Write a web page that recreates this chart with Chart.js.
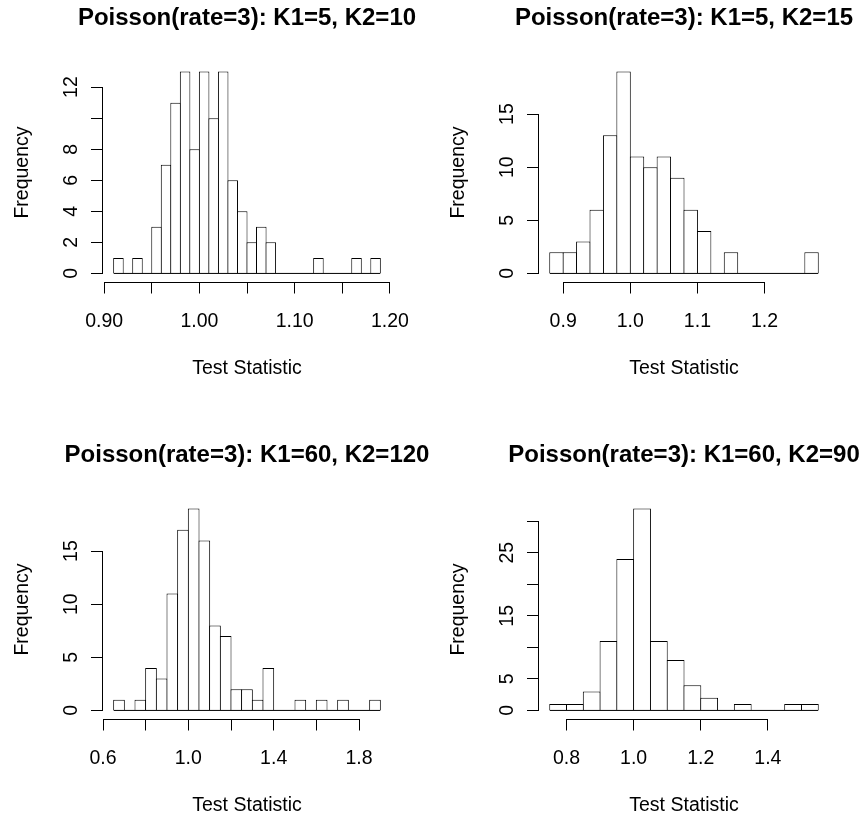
<!DOCTYPE html>
<html>
<head>
<meta charset="utf-8">
<title>Poisson(rate=3) test statistic histograms</title>
<script src="https://cdn.jsdelivr.net/npm/chart.js@4.4.1/dist/chart.umd.min.js"></script>
<style>
  html, body { margin: 0; padding: 0; background: #fff; }
  #page { position: relative; width: 863px; height: 820px; overflow: hidden; background: #fff; }
  #page canvas { position: absolute; }
</style>
</head>
<body>
<div id="page">
  <canvas id="h1" width="494" height="436" style="left:0px;top:0px;width:494px;height:436px"></canvas>
  <canvas id="h2" width="496" height="436" style="left:436px;top:0px;width:496px;height:436px"></canvas>
  <canvas id="h3" width="494" height="436" style="left:0px;top:437px;width:494px;height:436px"></canvas>
  <canvas id="h4" width="496" height="436" style="left:436px;top:437px;width:496px;height:436px"></canvas>
</div>
<script>
// ---- K1=5, K2=10 ----
const breaks1 = [0.91, 0.92, 0.93, 0.94, 0.95, 0.96, 0.97, 0.98, 0.99, 1.00,
                 1.01, 1.02, 1.03, 1.04, 1.05, 1.06, 1.07, 1.08, 1.09, 1.10,
                 1.11, 1.12, 1.13, 1.14, 1.15, 1.16, 1.17, 1.18, 1.19];
const counts1 = [1, 0, 1, 0, 3, 7, 11, 13, 8, 13,
                 10, 13, 6, 4, 2, 3, 2, 0, 0, 0,
                 0, 1, 0, 0, 0, 1, 0, 1];
const xTicks1 = [0.90, 0.95, 1.00, 1.05, 1.10, 1.15, 1.20];
const xLabels1 = ['0.90', '', '1.00', '', '1.10', '', '1.20'];
const yTicks1 = [0, 2, 4, 6, 8, 10, 12];
const yLabels1 = ['0', '2', '4', '6', '8', '', '12'];

// ---- K1=5, K2=15 ----
const breaks2 = [0.88, 0.90, 0.92, 0.94, 0.96, 0.98, 1.00, 1.02, 1.04, 1.06,
                 1.08, 1.10, 1.12, 1.14, 1.16, 1.18, 1.20, 1.22, 1.24, 1.26, 1.28];
const counts2 = [2, 2, 3, 6, 13, 19, 11, 10, 11, 9,
                 6, 4, 0, 2, 0, 0, 0, 0, 0, 2];
const xTicks2 = [0.9, 1.0, 1.1, 1.2];
const xLabels2 = ['0.9', '1.0', '1.1', '1.2'];
const yTicks2 = [0, 5, 10, 15];
const yLabels2 = ['0', '5', '10', '15'];

// ---- K1=60, K2=120 ----
const breaks3 = [0.65, 0.70, 0.75, 0.80, 0.85, 0.90, 0.95, 1.00, 1.05, 1.10,
                 1.15, 1.20, 1.25, 1.30, 1.35, 1.40, 1.45, 1.50, 1.55, 1.60,
                 1.65, 1.70, 1.75, 1.80, 1.85, 1.90];
const counts3 = [1, 0, 1, 4, 3, 11, 17, 19, 16, 8,
                 7, 2, 2, 1, 4, 0, 0, 1, 0, 1,
                 0, 1, 0, 0, 1];
const xTicks3 = [0.6, 0.8, 1.0, 1.2, 1.4, 1.6, 1.8];
const xLabels3 = ['0.6', '', '1.0', '', '1.4', '', '1.8'];
const yTicks3 = [0, 5, 10, 15];
const yLabels3 = ['0', '5', '10', '15'];

// ---- K1=60, K2=90 ----
const breaks4 = [0.75, 0.80, 0.85, 0.90, 0.95, 1.00, 1.05, 1.10, 1.15, 1.20,
                 1.25, 1.30, 1.35, 1.40, 1.45, 1.50, 1.55];
const counts4 = [1, 1, 3, 11, 24, 32, 11, 8, 4, 2,
                 0, 1, 0, 0, 1, 1];
const xTicks4 = [0.8, 1.0, 1.2, 1.4];
const xLabels4 = ['0.8', '1.0', '1.2', '1.4'];
const yTicks4 = [0, 5, 10, 15, 20, 25, 30];
const yLabels4 = ['0', '5', '', '15', '', '25', ''];

const FONT = '"Liberation Sans", Arial, Helvetica, sans-serif';
Chart.defaults.font.family = FONT;
Chart.defaults.color = '#000';

// Panel geometry (canvas pixels)
const PLOT_LEFT = 103;     // width of the left axis band
const XAXIS_HEIGHT = 154.5;

// Axis lines that run only from the first to the last tick
const tickSpanAxes = {
  id: 'tickSpanAxes',
  afterDraw(chart) {
    const { ctx, chartArea, scales } = chart;
    const x = scales.x, y = scales.y;
    const xt = x.ticks, yt = y.ticks;
    ctx.save();
    ctx.strokeStyle = '#000';
    ctx.lineWidth = 1;
    ctx.lineCap = 'square';
    ctx.beginPath();
    const yLine = Math.round(chartArea.bottom) + 0.5;
    ctx.moveTo(Math.round(x.getPixelForValue(xt[0].value) - 0.5) + 0.5, yLine);
    ctx.lineTo(Math.round(x.getPixelForValue(xt[xt.length - 1].value) - 0.5) + 0.5, yLine);
    const xLine = Math.round(chartArea.left) - 0.5;
    ctx.moveTo(xLine, Math.round(y.getPixelForValue(yt[0].value) - 0.5) + 0.5);
    ctx.lineTo(xLine, Math.round(y.getPixelForValue(yt[yt.length - 1].value) - 0.5) + 0.5);
    ctx.stroke();
    ctx.restore();
  }
};

function drawHistogram(id, title, breaks, counts, xTicks, xLabels, yTicks, yLabels) {
  const canvas = document.getElementById(id);
  const plotRight = canvas.width - PLOT_LEFT;   // an empty band of equal width on the right keeps the title centred on the plot
  const first = breaks[0];
  const last = breaks[breaks.length - 1];
  const pad = 0.04 * (last - first);
  const xMin = first - pad, xMax = last + pad;
  const maxCount = Math.max(...counts);
  const yMin = -0.04 * maxCount, yMax = 1.04 * maxCount;

  const bars = counts.map((c, i) => ({ x: (breaks[i] + breaks[i + 1]) / 2, y: c }));

  // widen each bar by one pixel so neighbouring outlines share a single line
  const binPx = (breaks[1] - breaks[0]) * (plotRight - PLOT_LEFT) / (xMax - xMin);
  const barPct = 1 + 1 / binPx;

  const tickFont = { family: FONT, size: 19.5 };

  return new Chart(canvas, {
    type: 'bar',
    data: {
      datasets: [
        {
          type: 'line',
          data: [{ x: first, y: 0 }, { x: last, y: 0 }],
          borderColor: '#000',
          borderWidth: 1,
          pointRadius: 0,
          fill: false,
          order: 0
        },
        {
          type: 'bar',
          data: bars,
          backgroundColor: '#fff',
          borderColor: '#000',
          borderWidth: 1,
          borderSkipped: 'bottom',
          barPercentage: barPct,
          categoryPercentage: 1,
          order: 1
        }
      ]
    },
    options: {
      responsive: false,
      animation: false,
      devicePixelRatio: 1,
      events: [],
      layout: { padding: 0 },
      plugins: {
        legend: { display: false },
        tooltip: { enabled: false },
        title: {
          display: true,
          text: title,
          color: '#000',
          fullSize: true,
          font: { family: FONT, size: 24, weight: 'bold' },
          padding: { top: 3.8, bottom: 30.9 }
        }
      },
      scales: {
        x: {
          type: 'linear',
          min: xMin,
          max: xMax,
          offset: false,
          border: { display: false },
          grid: { offset: false, drawOnChartArea: false, drawTicks: true, tickLength: 12, color: '#000', lineWidth: 1 },
          afterBuildTicks: s => { s.ticks = xTicks.map(v => ({ value: v })); },
          afterFit: s => { s.height = XAXIS_HEIGHT; },
          ticks: {
            autoSkip: false, maxRotation: 0, minRotation: 0, padding: 16.3,
            color: '#000', font: tickFont,
            callback: (v, i) => xLabels[i]
          },
          title: {
            display: true, text: 'Test Statistic', color: '#000',
            font: tickFont, padding: { top: 0, bottom: 56 }
          }
        },
        y: {
          type: 'linear',
          position: 'left',
          min: yMin,
          max: yMax,
          border: { display: false },
          grid: { drawOnChartArea: false, drawTicks: true, tickLength: 12, color: '#000', lineWidth: 1 },
          afterBuildTicks: s => { s.ticks = yTicks.map(v => ({ value: v })); },
          afterFit: s => { s.width = PLOT_LEFT; },
          ticks: {
            autoSkip: false, minRotation: 90, maxRotation: 90, crossAlign: 'center', padding: 8.6,
            color: '#000', font: tickFont,
            callback: (v, i) => yLabels[i]
          },
          title: {
            display: true, text: 'Frequency', color: '#000',
            font: tickFont, padding: { top: 10.8, bottom: 0 }
          }
        },
        // blank band on the right, same width as the left axis band
        yRight: {
          type: 'linear',
          position: 'right',
          border: { display: false },
          grid: { display: false, drawTicks: false },
          ticks: { display: false },
          afterFit: s => { s.width = PLOT_LEFT; }
        }
      }
    },
    plugins: [tickSpanAxes]
  });
}

drawHistogram('h1', 'Poisson(rate=3): K1=5, K2=10', breaks1, counts1, xTicks1, xLabels1, yTicks1, yLabels1);
drawHistogram('h2', 'Poisson(rate=3): K1=5, K2=15', breaks2, counts2, xTicks2, xLabels2, yTicks2, yLabels2);
drawHistogram('h3', 'Poisson(rate=3): K1=60, K2=120', breaks3, counts3, xTicks3, xLabels3, yTicks3, yLabels3);
drawHistogram('h4', 'Poisson(rate=3): K1=60, K2=90', breaks4, counts4, xTicks4, xLabels4, yTicks4, yLabels4);
</script>
</body>
</html>
